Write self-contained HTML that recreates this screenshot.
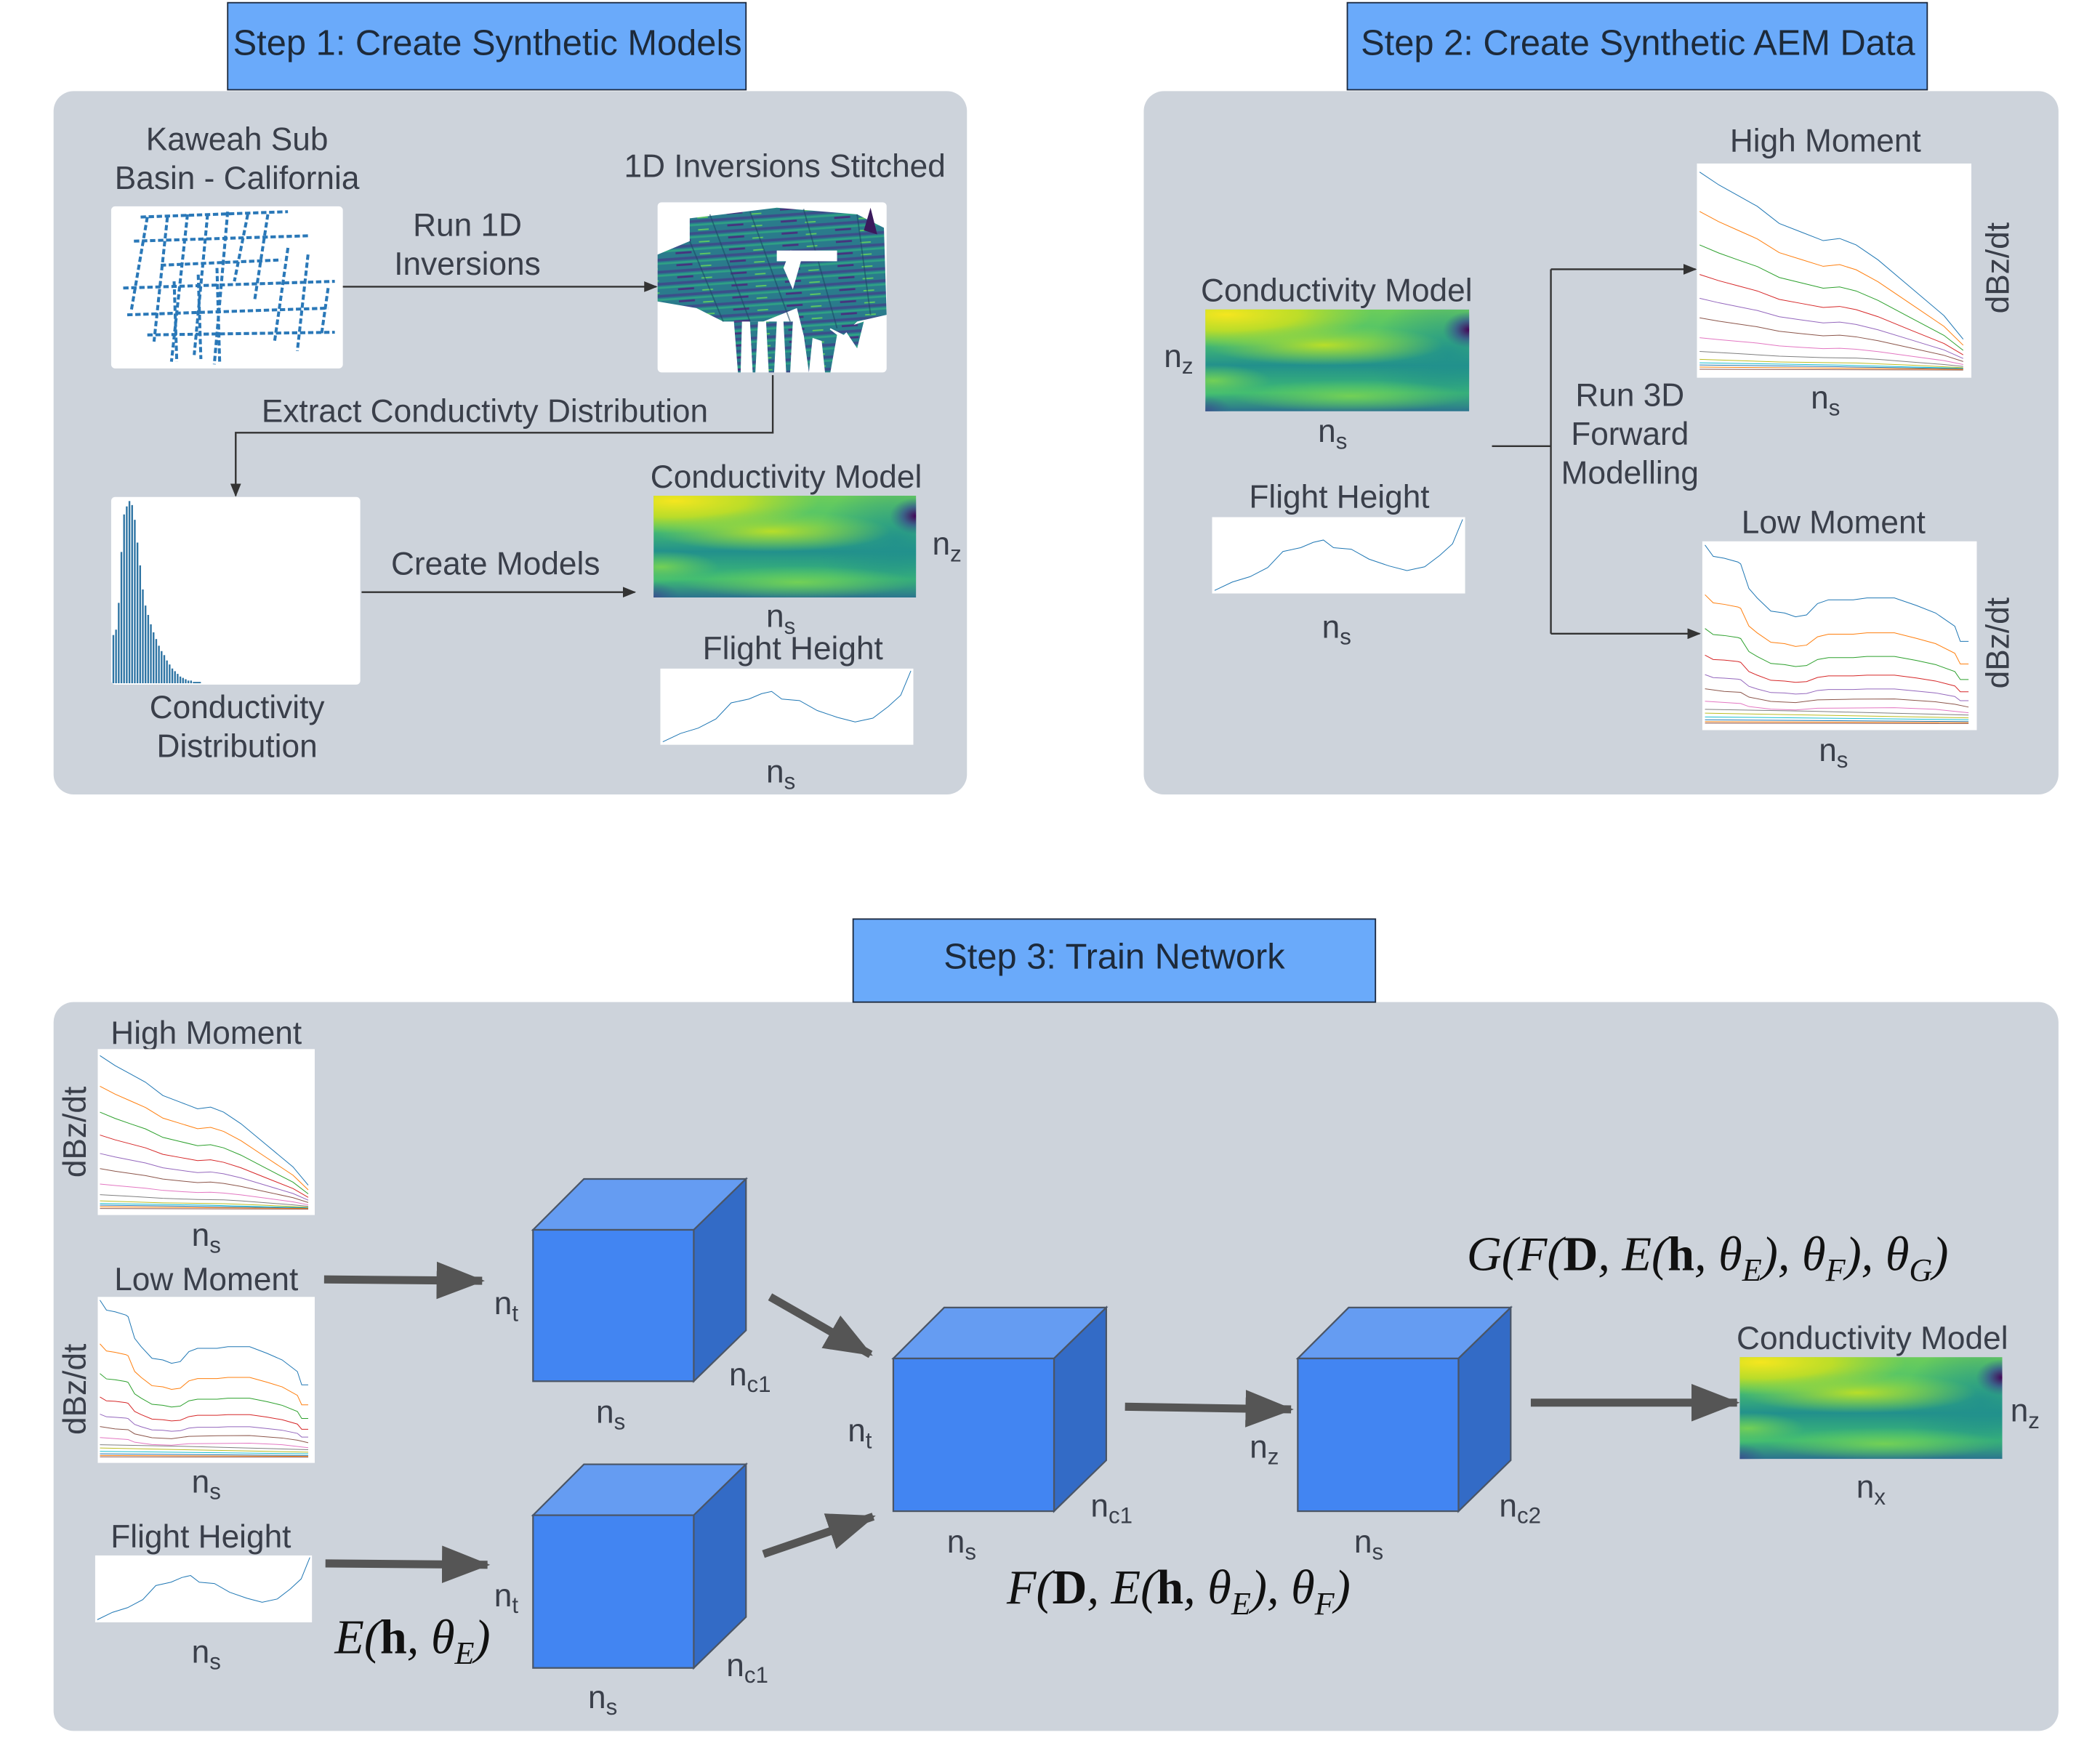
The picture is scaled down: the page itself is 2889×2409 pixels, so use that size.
<!DOCTYPE html>
<html><head><meta charset="utf-8"><style>
html,body{margin:0;padding:0;background:#fff;}
svg{display:block;}
text{font-family:"Liberation Sans",sans-serif;fill:#3a3f4a;}
.m{font-family:"Liberation Serif",serif;fill:#111;font-style:italic;}
</style></head><body>
<svg width="2889" height="2409" viewBox="0 0 1568 1307" preserveAspectRatio="none" xmlns="http://www.w3.org/2000/svg">
<defs>
<marker id="ah" markerWidth="10" markerHeight="8" refX="9" refY="4" orient="auto" markerUnits="userSpaceOnUse"><path d="M0,0 L10,4 L0,8 z" fill="#333"/></marker>
<marker id="bh" markerWidth="36" markerHeight="28" refX="34" refY="14" orient="auto" markerUnits="userSpaceOnUse"><path d="M0,0 L36,14 L0,28 z" fill="#555"/></marker>
<linearGradient id="hb" x1="0" y1="0" x2="0" y2="1"><stop offset="0" stop-color="#6ccd5a"/><stop offset="0.3" stop-color="#4ac16d"/><stop offset="0.55" stop-color="#22908c"/><stop offset="0.82" stop-color="#3fbc73"/><stop offset="1" stop-color="#2c728e"/></linearGradient>
<radialGradient id="gy"><stop offset="0" stop-color="#f5e61f"/><stop offset="0.5" stop-color="#d2e21b" stop-opacity="0.8"/><stop offset="1" stop-color="#b5de2b" stop-opacity="0"/></radialGradient>
<radialGradient id="gl"><stop offset="0" stop-color="#b8de29"/><stop offset="1" stop-color="#8fd744" stop-opacity="0"/></radialGradient>
<radialGradient id="gg"><stop offset="0" stop-color="#73d056"/><stop offset="1" stop-color="#5ec962" stop-opacity="0"/></radialGradient>
<radialGradient id="gp"><stop offset="0" stop-color="#440154"/><stop offset="0.5" stop-color="#3b528b" stop-opacity="0.8"/><stop offset="1" stop-color="#31688e" stop-opacity="0"/></radialGradient>
<radialGradient id="gb"><stop offset="0" stop-color="#3b528b"/><stop offset="1" stop-color="#31688e" stop-opacity="0"/></radialGradient>
<radialGradient id="gt"><stop offset="0" stop-color="#21918c" stop-opacity="0.9"/><stop offset="1" stop-color="#21918c" stop-opacity="0"/></radialGradient>
<symbol id="heat" viewBox="0 0 100 100" preserveAspectRatio="none">
<rect width="100" height="100" fill="url(#hb)"/>
<ellipse cx="92" cy="45" rx="30" ry="60" fill="url(#gt)"/>
<ellipse cx="8" cy="5" rx="55" ry="32" fill="url(#gy)"/>
<ellipse cx="45" cy="35" rx="45" ry="20" fill="url(#gl)"/>
<ellipse cx="55" cy="85" rx="45" ry="16" fill="url(#gg)"/>
<ellipse cx="3" cy="70" rx="22" ry="16" fill="url(#gg)"/>
<ellipse cx="100" cy="20" rx="10" ry="18" fill="url(#gp)"/>
<ellipse cx="0" cy="100" rx="10" ry="15" fill="url(#gb)"/>
</symbol>
<symbol id="hm" viewBox="0 0 100 100" preserveAspectRatio="none">
<rect width="100" height="100" fill="#fff"/>
<g fill="none">
<polyline vector-effect="non-scaling-stroke" stroke="#1f77b4" points="1,4 8,10 15,15 22,20 30,28 38,32 46,36 52,35 58,38 66,45 78,58 90,71 97,82"/>
<polyline vector-effect="non-scaling-stroke" stroke="#ff7f0e" points="1,22.4 8,27.2 15,31.2 22,35.2 30,41.6 38,44.8 46,48 52,47.2 58,49.6 66,55.2 78,65.6 90,76 97,84.8"/>
<polyline vector-effect="non-scaling-stroke" stroke="#2ca02c" points="1,38 8,41.8 15,45 22,48.1 30,53.2 38,55.7 46,58.2 52,57.6 58,59.5 66,63.9 78,72.1 90,80.2 97,87.2"/>
<polyline vector-effect="non-scaling-stroke" stroke="#d62728" points="1,51.8 8,54.7 15,57.1 22,59.5 30,63.4 38,65.3 46,67.2 52,66.7 58,68.2 66,71.5 78,77.8 90,84 97,89.3"/>
<polyline vector-effect="non-scaling-stroke" stroke="#9467bd" points="1,62.9 8,65 15,66.8 22,68.6 30,71.5 38,73 46,74.4 52,74 58,75.1 66,77.6 78,82.3 90,87 97,91"/>
<polyline vector-effect="non-scaling-stroke" stroke="#8c564b" points="1,72 8,73.6 15,74.9 22,76.2 30,78.3 38,79.4 46,80.4 52,80.1 58,80.9 66,82.7 78,86.1 90,89.5 97,92.4"/>
<polyline vector-effect="non-scaling-stroke" stroke="#e377c2" points="1,81.3 8,82.2 15,83 22,83.8 30,85.1 38,85.8 46,86.4 52,86.2 58,86.7 66,87.8 78,89.9 90,92 97,93.8"/>
<polyline vector-effect="non-scaling-stroke" stroke="#7f7f7f" points="1,87.7 15,88.7 30,89.9 46,90.6 58,90.8 66,91.4 78,92.6 90,93.8 97,94.7"/>
<polyline vector-effect="non-scaling-stroke" stroke="#bcbd22" points="1,91.4 30,92.6 58,93.1 78,94.1 97,95.3"/>
<polyline vector-effect="non-scaling-stroke" stroke="#17becf" points="1,93 50,94 97,95.6"/>
<polyline vector-effect="non-scaling-stroke" stroke="#1f77b4" points="1,94 50,94.8 97,95.8"/>
<polyline vector-effect="non-scaling-stroke" stroke="#ff7f0e" points="1,95 97,96"/>
<polyline vector-effect="non-scaling-stroke" stroke="#8c564b" points="1,96 97,96.4"/>
</g></symbol>
<symbol id="lm" viewBox="0 0 100 100" preserveAspectRatio="none">
<rect width="100" height="100" fill="#fff"/>
<g fill="none">
<polyline vector-effect="non-scaling-stroke" stroke="#1f77b4" points="1,2 4,8 8,9 13,11 14,12 17,25 20,30 25,37 30,38 34,40 38,39 42,33 46,31 55,31 60,30 70,30 78,34 85,38 92,45 94,53 97,53"/>
<polyline vector-effect="non-scaling-stroke" stroke="#ff7f0e" points="1,28.3 4,32.6 8,33.4 13,34.8 14,35.5 17,44.9 20,48.5 25,53.5 30,54.2 34,55.7 38,55 42,50.6 46,49.2 55,49.2 60,48.5 70,48.5 78,51.4 85,54.2 92,59.3 94,65 97,65"/>
<polyline vector-effect="non-scaling-stroke" stroke="#2ca02c" points="1,46.2 4,49.4 8,49.9 13,51 14,51.5 17,58.4 20,61 25,64.7 30,65.3 34,66.3 38,65.8 42,62.6 46,61.6 55,61.6 60,61 70,61 78,63.1 85,65.3 92,69 94,73.2 97,73.2"/>
<polyline vector-effect="non-scaling-stroke" stroke="#d62728" points="1,60.3 4,62.6 8,62.9 13,63.7 14,64.1 17,69 20,70.9 25,73.6 30,74 34,74.7 38,74.3 42,72.1 46,71.3 55,71.3 60,70.9 70,70.9 78,72.4 85,74 92,76.6 94,79.7 97,79.7"/>
<polyline vector-effect="non-scaling-stroke" stroke="#9467bd" points="1,70.6 4,72.2 8,72.5 13,73 14,73.3 17,76.8 20,78.2 25,80.1 30,80.3 34,80.9 38,80.6 42,79 46,78.5 55,78.5 60,78.2 70,78.2 78,79.3 85,80.3 92,82.2 94,84.4 97,84.4"/>
<polyline vector-effect="non-scaling-stroke" stroke="#8c564b" points="1,78.1 8,79.5 14,80 17,82.5 25,84.8 34,85.4 42,84 55,83.6 70,83.5 85,85 92,86.3 97,87.8"/>
<polyline vector-effect="non-scaling-stroke" stroke="#e377c2" points="1,84.7 14,85.9 17,87.5 25,88.9 34,89.3 42,88.4 70,88.1 85,89 97,90.8"/>
<polyline vector-effect="non-scaling-stroke" stroke="#7f7f7f" points="1,89 40,90 97,92"/>
<polyline vector-effect="non-scaling-stroke" stroke="#bcbd22" points="1,91 40,92 97,93.5"/>
<polyline vector-effect="non-scaling-stroke" stroke="#17becf" points="1,93 97,94.5"/>
<polyline vector-effect="non-scaling-stroke" stroke="#1f77b4" points="1,94.5 97,95.5"/>
<polyline vector-effect="non-scaling-stroke" stroke="#ff7f0e" points="1,95.5 97,96"/>
<polyline vector-effect="non-scaling-stroke" stroke="#8c564b" points="1,96.3 97,96.5"/>
</g></symbol>
<symbol id="fh" viewBox="0 0 100 100" preserveAspectRatio="none">
<rect width="100" height="100" fill="#fff"/>
<path vector-effect="non-scaling-stroke" fill="none" stroke="#1f77b4" d="M1,96 L8,85 L15,78 L22,66 L28,45 L35,40 L40,33 L44,30 L48,40 L55,42 L62,55 L70,64 L77,70 L84,65 L90,50 L95,35 L99,3"/>
</symbol>
<pattern id="sp" width="40" height="9" patternUnits="userSpaceOnUse" patternTransform="rotate(-4)">
<rect width="40" height="9" fill="#2a7b8c"/><rect y="2" width="40" height="2" fill="#3b4f8a"/><rect y="5" width="40" height="1.5" fill="#2fa085"/><rect x="10" y="7" width="12" height="1.5" fill="#46337e"/><rect x="28" y="0" width="8" height="1" fill="#5ec962"/></pattern>
</defs>

<!-- Panels -->
<rect x="40" y="68" width="682" height="525" rx="15" fill="#cdd3db"/>
<rect x="854" y="68" width="683" height="525" rx="15" fill="#cdd3db"/>
<rect x="40" y="748" width="1497" height="544" rx="15" fill="#cdd3db"/>

<!-- Step titles -->
<rect x="170" y="2" width="387" height="65" fill="#6aaafa" stroke="#1c2a40" stroke-width="1"/>
<text x="364" y="41" font-size="26.5" text-anchor="middle" style="fill:#1d2a3a">Step 1: Create Synthetic Models</text>
<rect x="1006" y="2" width="433" height="65" fill="#6aaafa" stroke="#1c2a40" stroke-width="1"/>
<text x="1223" y="41" font-size="26.5" text-anchor="middle" style="fill:#1d2a3a">Step 2: Create Synthetic AEM Data</text>
<rect x="637" y="686" width="390" height="62" fill="#6aaafa" stroke="#1c2a40" stroke-width="1"/>
<text x="832" y="723" font-size="26.5" text-anchor="middle" style="fill:#1d2a3a">Step 3: Train Network</text>

<!-- Panel 1 -->
<g font-size="24" text-anchor="middle">
<text x="177" y="112">Kaweah Sub</text>
<text x="177" y="141">Basin - California</text>
<text x="349" y="176">Run 1D</text>
<text x="349" y="205">Inversions</text>
<text x="586" y="132">1D Inversions Stitched</text>
<text x="362" y="315">Extract Conductivty Distribution</text>
<text x="177" y="536">Conductivity</text>
<text x="177" y="565">Distribution</text>
<text x="370" y="429">Create Models</text>
<text x="587" y="364">Conductivity Model</text>
<text x="707" y="414">n<tspan font-size="17" dy="5">z</tspan></text>
<text x="583" y="468">n<tspan font-size="17" dy="5">s</tspan></text>
<text x="592" y="492">Flight Height</text>
<text x="583" y="584">n<tspan font-size="17" dy="5">s</tspan></text>
</g>
<rect x="83" y="154" width="173" height="121" rx="3" fill="#fff"/>
<g stroke="#2a78b8" stroke-width="2.2" stroke-dasharray="4 2" fill="none">
<path d="M105,162 L215,158 M100,180 L230,176 M92,215 L250,210 M95,235 L245,230 M110,250 L250,248 M120,198 L210,194"/>
<path d="M110,162 L98,232 M125,162 L115,255 M140,160 L128,270 M155,160 L145,265 M170,158 L160,272 M185,160 L175,210 M200,160 L190,225 M215,185 L205,255 M230,190 L222,262 M245,215 L240,250 M130,210 L132,270 M148,205 L150,268 M162,200 L164,270"/>
</g>
<rect x="491" y="151" width="171" height="127" rx="3" fill="#fff"/>
<path d="M491,190 L515,180 L515,163 L540,160 L580,155 L640,160 L660,170 L662,235 L640,240 L630,250 L620,245 L615,255 L600,250 L595,230 L570,240 L540,240 L520,230 L491,225 Z" fill="url(#sp)"/>
<g fill="url(#sp)">
<polygon points="560,240 566,240 564,278 562,278"/><polygon points="572,240 580,240 578,278 574,278"/><polygon points="585,240 592,240 590,278 587,278"/><polygon points="598,235 608,240 604,278"/><polygon points="612,240 625,250 620,278 616,278"/><polygon points="630,245 645,240 640,260"/><polygon points="548,240 554,240 553,278 551,278"/>
</g>
<g stroke="#1d4a66" stroke-width="1" fill="none" opacity="0.6">
<path d="M530,160 L560,240 M560,158 L590,240 M600,156 L625,245 M515,180 L540,240 M640,160 L650,235"/></g>
<path d="M650,155 L655,175 L645,172 Z" fill="#3b1a5c"/>
<path d="M585,200 L590,187 L600,188 L592,216 Z" fill="#fff"/><rect x="580" y="187" width="45" height="8" fill="#fff"/>
<rect x="83" y="371" width="186" height="140" rx="3" fill="#fff"/>
<g fill="#2f75a4">
<rect x="84" y="474" width="1.3" height="36"/><rect x="86" y="470" width="1.3" height="40"/><rect x="88" y="450" width="1.3" height="60"/><rect x="90" y="412" width="1.3" height="98"/><rect x="92" y="384" width="1.3" height="126"/><rect x="94" y="378" width="1.3" height="132"/><rect x="96" y="374" width="1.3" height="136"/><rect x="98" y="377" width="1.3" height="133"/><rect x="100" y="388" width="1.3" height="122"/><rect x="102" y="405" width="1.3" height="105"/><rect x="104" y="422" width="1.3" height="88"/><rect x="106" y="440" width="1.3" height="70"/><rect x="108" y="452" width="1.3" height="58"/><rect x="110" y="459" width="1.3" height="51"/><rect x="112" y="466" width="1.3" height="44"/><rect x="114" y="472" width="1.3" height="38"/><rect x="116" y="477" width="1.3" height="33"/><rect x="118" y="482" width="1.3" height="28"/><rect x="120" y="486" width="1.3" height="24"/><rect x="122" y="489" width="1.3" height="21"/><rect x="124" y="493" width="1.3" height="17"/><rect x="126" y="496" width="1.3" height="14"/><rect x="128" y="499" width="1.3" height="11"/><rect x="130" y="501" width="1.3" height="9"/><rect x="132" y="503" width="1.3" height="7"/><rect x="134" y="505" width="1.3" height="5"/><rect x="136" y="506" width="1.3" height="4"/><rect x="138" y="507" width="1.3" height="3"/><rect x="140" y="508" width="1.3" height="2"/><rect x="142" y="508" width="1.3" height="2"/><rect x="144" y="509" width="6" height="1"/>
</g>
<use href="#heat" x="488" y="370" width="196" height="76"/>
<use href="#fh" x="493" y="499" width="189" height="57"/>
<g stroke="#333" stroke-width="1.3" fill="none">
<path d="M256,214 L490,214" marker-end="url(#ah)"/>
<path d="M577,280 L577,323 L176,323 L176,370" marker-end="url(#ah)"/>
<path d="M270,442 L474,442" marker-end="url(#ah)"/>
</g>

<!-- Panel 2 -->
<g font-size="24" text-anchor="middle">
<text x="998" y="225">Conductivity Model</text>
<text x="880" y="274">n<tspan font-size="17" dy="5">z</tspan></text>
<text x="995" y="330">n<tspan font-size="17" dy="5">s</tspan></text>
<text x="1000" y="379">Flight Height</text>
<text x="998" y="476">n<tspan font-size="17" dy="5">s</tspan></text>
<text x="1217" y="303">Run 3D</text>
<text x="1217" y="332">Forward</text>
<text x="1217" y="361">Modelling</text>
<text x="1363" y="113">High Moment</text>
<text x="1363" y="305">n<tspan font-size="17" dy="5">s</tspan></text>
<text x="1369" y="398">Low Moment</text>
<text x="1369" y="568">n<tspan font-size="17" dy="5">s</tspan></text>
<text transform="translate(1500,200) rotate(-90)">dBz/dt</text>
<text transform="translate(1500,480) rotate(-90)">dBz/dt</text>
</g>
<use href="#heat" x="900" y="231" width="197" height="76"/>
<use href="#fh" x="905" y="386" width="189" height="57"/>
<use href="#hm" x="1267" y="122" width="205" height="160"/>
<use href="#lm" x="1271" y="404" width="205" height="141"/>
<g stroke="#333" stroke-width="1.3" fill="none">
<path d="M1114,333 L1158,333 M1158,201 L1158,473"/>
<path d="M1158,201 L1266,201" marker-end="url(#ah)"/>
<path d="M1158,473 L1269,473" marker-end="url(#ah)"/>
</g>

<!-- Panel 3 -->
<g font-size="24" text-anchor="middle">
<text x="154" y="779">High Moment</text>
<text x="154" y="930">n<tspan font-size="17" dy="5">s</tspan></text>
<text x="154" y="963">Low Moment</text>
<text x="154" y="1114">n<tspan font-size="17" dy="5">s</tspan></text>
<text x="150" y="1155">Flight Height</text>
<text x="154" y="1241">n<tspan font-size="17" dy="5">s</tspan></text>
<text transform="translate(64,845) rotate(-90)">dBz/dt</text>
<text transform="translate(64,1037) rotate(-90)">dBz/dt</text>
<text x="378" y="981">n<tspan font-size="17" dy="5">t</tspan></text>
<text x="560" y="1034">n<tspan font-size="17" dy="5">c1</tspan></text>
<text x="456" y="1062">n<tspan font-size="17" dy="5">s</tspan></text>
<text x="378" y="1199">n<tspan font-size="17" dy="5">t</tspan></text>
<text x="558" y="1251">n<tspan font-size="17" dy="5">c1</tspan></text>
<text x="450" y="1275">n<tspan font-size="17" dy="5">s</tspan></text>
<text x="642" y="1076">n<tspan font-size="17" dy="5">t</tspan></text>
<text x="830" y="1132">n<tspan font-size="17" dy="5">c1</tspan></text>
<text x="718" y="1159">n<tspan font-size="17" dy="5">s</tspan></text>
<text x="944" y="1088">n<tspan font-size="17" dy="5">z</tspan></text>
<text x="1135" y="1132">n<tspan font-size="17" dy="5">c2</tspan></text>
<text x="1022" y="1159">n<tspan font-size="17" dy="5">s</tspan></text>
<text x="1398" y="1007">Conductivity Model</text>
<text x="1512" y="1061">n<tspan font-size="17" dy="5">z</tspan></text>
<text x="1397" y="1118">n<tspan font-size="17" dy="5">x</tspan></text>
</g>
<use href="#hm" x="73" y="783" width="162" height="124"/>
<use href="#lm" x="73" y="968" width="162" height="124"/>
<use href="#fh" x="71" y="1161" width="162" height="50"/>
<use href="#heat" x="1299" y="1013" width="196" height="76"/>

<text class="m" x="308" y="1234" font-size="36" text-anchor="middle">E(<tspan font-weight="bold" font-style="normal">h</tspan>, θ<tspan font-size="24" dy="8">E</tspan><tspan dy="-8">)</tspan></text>
<text class="m" x="880" y="1197" font-size="36" text-anchor="middle">F(<tspan font-weight="bold" font-style="normal">D</tspan>, E(<tspan font-weight="bold" font-style="normal">h</tspan>, θ<tspan font-size="24" dy="8">E</tspan><tspan dy="-8">), θ</tspan><tspan font-size="24" dy="8">F</tspan><tspan dy="-8">)</tspan></text>
<text class="m" x="1275" y="948" font-size="36" text-anchor="middle">G(F(<tspan font-weight="bold" font-style="normal">D</tspan>, E(<tspan font-weight="bold" font-style="normal">h</tspan>, θ<tspan font-size="24" dy="8">E</tspan><tspan dy="-8">), θ</tspan><tspan font-size="24" dy="8">F</tspan><tspan dy="-8">), θ</tspan><tspan font-size="24" dy="8">G</tspan><tspan dy="-8">)</tspan></text>

<!-- Cubes -->
<g stroke="#4a5566" stroke-width="1.2">
<g transform="translate(398,918)">
<polygon points="0,0 38,-38 159,-38 120,0" fill="#659cf2"/><polygon points="120,0 159,-38 159,75 120,113" fill="#336bc6"/><rect x="0" y="0" width="120" height="113" fill="#4285f2"/></g>
<g transform="translate(398,1131)">
<polygon points="0,0 38,-38 159,-38 120,0" fill="#659cf2"/><polygon points="120,0 159,-38 159,76 120,114" fill="#336bc6"/><rect x="0" y="0" width="120" height="114" fill="#4285f2"/></g>
<g transform="translate(667,1014)">
<polygon points="0,0 38,-38 159,-38 120,0" fill="#659cf2"/><polygon points="120,0 159,-38 159,76 120,114" fill="#336bc6"/><rect x="0" y="0" width="120" height="114" fill="#4285f2"/></g>
<g transform="translate(969,1014)">
<polygon points="0,0 38,-38 159,-38 120,0" fill="#659cf2"/><polygon points="120,0 159,-38 159,76 120,114" fill="#336bc6"/><rect x="0" y="0" width="120" height="114" fill="#4285f2"/></g>
</g>

<!-- Thick arrows -->
<g stroke="#555" stroke-width="6" fill="none">
<path d="M242,955 L360,956" marker-end="url(#bh)"/>
<path d="M243,1167 L364,1168" marker-end="url(#bh)"/>
<path d="M575,968 L650,1011" marker-end="url(#bh)"/>
<path d="M570,1160 L652,1132" marker-end="url(#bh)"/>
<path d="M840,1050 L964,1052" marker-end="url(#bh)"/>
<path d="M1143,1047 L1297,1047" marker-end="url(#bh)"/>
</g>
</svg>
</body></html>
